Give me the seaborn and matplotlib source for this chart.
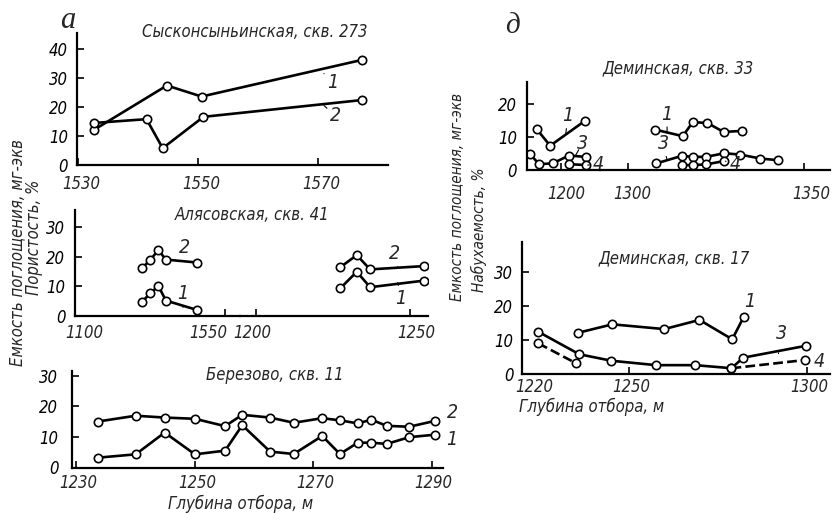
import matplotlib
matplotlib.use("Agg")
import matplotlib.pyplot as plt
import seaborn as sns

# --- data ---
# a) Сысконсыньинская, скв. 273
syk_depth1 = [1532.7, 1544.8, 1550.6, 1577.3]
syk_cap1 = [12.2, 27.4, 23.6, 36.2]
syk_depth2 = [1532.7, 1541.4, 1544.1, 1550.9, 1577.4]
syk_por2 = [14.5, 15.8, 5.8, 16.6, 22.4]

# Алясовская, скв. 41 (broken depth axis)
ala_left_depth = [1522.4, 1525.0, 1527.8, 1530.3, 1540.8]
ala_left_cap1 = [4.8, 7.6, 10.1, 5.2, 2.0]
ala_left_por2 = [16.2, 18.8, 22.2, 19.0, 18.0]
ala_right_depth = [1227.3, 1232.7, 1237.0, 1254.4]
ala_right_cap1 = [9.3, 14.9, 9.7, 11.9]
ala_right_por2 = [16.4, 20.5, 15.7, 16.8]

# Березово, скв. 11
ber_depth = [1233.6, 1240.0, 1244.9, 1250.0, 1255.1, 1258.0, 1262.7, 1266.7,
             1271.5, 1274.5, 1277.5, 1279.8, 1282.4, 1286.2, 1290.5]
ber_cap1 = [3.2, 4.3, 11.4, 4.3, 5.5, 13.8, 5.2, 4.4, 10.3, 4.4, 8.1, 8.1, 7.7, 9.9, 10.7]
ber_por2 = [15.0, 16.9, 16.3, 15.9, 13.5, 17.2, 16.3, 14.6, 16.1, 15.4, 14.4, 15.6,
            13.6, 13.3, 15.2]

# д) Деминская, скв. 33
d33_l_depth1 = [1193.0, 1196.9, 1206.7]
d33_l_cap1 = [12.5, 7.4, 14.9]
d33_l_depth3 = [1191.2, 1193.7, 1197.6, 1202.2, 1207.0]
d33_l_sw3 = [4.8, 1.8, 2.0, 4.4, 4.0]
d33_l_depth4 = [1202.2, 1207.0]
d33_l_sw4 = [1.8, 1.5]
d33_r_depth1 = [1307.6, 1315.5, 1318.3, 1322.5, 1327.1, 1332.3]
d33_r_cap1 = [12.3, 10.3, 14.6, 14.3, 11.6, 11.9]
d33_r_depth3 = [1307.9, 1315.2, 1318.5, 1322.1, 1327.3, 1331.8, 1337.5, 1342.5]
d33_r_sw3 = [2.0, 4.3, 4.0, 4.0, 5.1, 4.7, 3.5, 3.0]
d33_r_depth4 = [1315.2, 1318.5, 1322.1, 1327.1]
d33_r_sw4 = [1.5, 1.5, 1.7, 2.7]

# Деминская, скв. 17
d17_depth1 = [1235.6, 1245.3, 1259.9, 1269.8, 1279.0, 1282.3]
d17_cap1 = [12.1, 14.6, 13.2, 15.9, 10.2, 16.9]
d17_depth3 = [1224.5, 1236.0, 1245.0, 1257.6, 1268.6, 1278.8, 1282.1, 1299.8]
d17_sw3 = [12.4, 5.8, 3.9, 2.6, 2.6, 1.7, 4.8, 8.3]
d17_depth4a = [1224.5, 1235.2]
d17_sw4a = [9.0, 3.1]
d17_depth4b = [1278.8, 1299.4]
d17_sw4b = [1.7, 4.1]

W, H = 832, 513
sns.set_style("ticks")
plt.rcParams["font.family"] = ["DejaVu Sans"]
plt.rcParams["font.stretch"] = "condensed"
plt.rcParams["font.style"] = "italic"
SERIF = ["Liberation Serif", "DejaVu Serif"]

fig = plt.figure(figsize=(W / 100, H / 100), dpi=100)
fig.patch.set_facecolor("white")


def px_axes(x0, x1, ytop, ybot, ypad=6):
    ax = fig.add_axes([x0 / W, 1 - ybot / H, (x1 - x0) / W, (ybot - ytop) / H])
    ax.set_facecolor("none")
    sns.despine(ax=ax)
    for s in ["left", "bottom"]:
        ax.spines[s].set_linewidth(1.6)
        ax.spines[s].set_color("black")
    ax.tick_params(direction="in", length=5, width=1.2, labelsize=12,
                   colors="black", labelbottom=False)
    ax.tick_params(axis="y", pad=ypad)
    return ax


def xlabels(ax, ticks, labels=None, drop=6, shift=None):
    # tick labels drawn as text so that each can sit where the print has it
    ax.set_xticks(ticks)
    labels = labels or [str(t) for t in ticks]
    shift = shift or [3] * len(ticks)
    for t, lab, dx in zip(ticks, labels, shift):
        ax.annotate(lab, xy=(t, 0), xycoords=("data", "axes fraction"),
                    xytext=(dx * 0.72, -drop * 0.72), textcoords="offset points",
                    ha="center", va="top", fontsize=12)


def curve(ax, x, y, dashed=False):
    sns.lineplot(x=x, y=y, ax=ax, color="black", lw=1.9, marker="o", ms=6,
                 markerfacecolor="white", markeredgecolor="black", mew=1.2,
                 linestyle="--" if dashed else "-", sort=False)
    ax.set_xlabel("")
    ax.set_ylabel("")


def ftext(x, y, s, size=12, **kw):
    fig.text(x / W, 1 - y / H, s, fontsize=size, ha="center", va="center", **kw)


def tag(ax, x, y, s, tx, ty):
    ax.annotate(s, xy=(x, y), xytext=(tx, ty), fontsize=14, ha="center", va="center",
                arrowprops=dict(arrowstyle="-", lw=0.8, color="black", shrinkA=5, shrinkB=0))


# panel: Сысконсыньинская
ax1 = px_axes(77, 388, 33, 165, ypad=6.5)
curve(ax1, syk_depth1, syk_cap1)
curve(ax1, syk_depth2, syk_por2)
ax1.set_xlim(1529.8, 1581.7)
ax1.set_ylim(0, 45.5)
xlabels(ax1, [1530, 1550, 1570], drop=10)
ax1.set_yticks([0, 10, 20, 30, 40])
tag(ax1, 1571, 31.5, "1", 1572.5, 28.5)
tag(ax1, 1571, 20.5, "2", 1573, 17)

# panel: Алясовская (two pieces of one depth axis)
ax2a = px_axes(75, 240, 210, 316, ypad=7)
ax2b = px_axes(240, 428, 210, 316)
curve(ax2a, ala_left_depth, ala_left_cap1)
curve(ax2a, ala_left_depth, ala_left_por2)
curve(ax2b, ala_right_depth, ala_right_cap1)
curve(ax2b, ala_right_depth, ala_right_por2)
ax2a.set_xlim(1500, 1555)
ax2b.set_xlim(1194.8, 1255.8)
for a in (ax2a, ax2b):
    a.set_ylim(0, 35.7)
xlabels(ax2a, [1500, 1550], ["1100", "1550"], drop=8, shift=[9, -17])
ax2a.set_yticks([0, 10, 20, 30])
xlabels(ax2b, [1200, 1250], drop=8, shift=[-4, 6])
ax2b.spines["left"].set_visible(False)
ax2b.tick_params(axis="y", left=False, labelleft=False)
tag(ax2a, 1536, 18.5, "2", 1536.5, 23)
tag(ax2a, 1536, 2.9, "1", 1536, 7.5)
tag(ax2b, 1246, 16.5, "2", 1245, 21)
tag(ax2b, 1246, 11.3, "1", 1247, 6)

# panel: Березово
ax3 = px_axes(72.3, 443, 371, 467.5, ypad=10)
curve(ax3, ber_depth, ber_cap1)
curve(ax3, ber_depth, ber_por2)
ax3.set_xlim(1229.3, 1291.9)
ax3.set_ylim(0, 31.5)
xlabels(ax3, [1230, 1250, 1270, 1290], drop=6, shift=[2, 2, 2, 2])
ax3.set_yticks([0, 10, 20, 30])
ax3.text(1292.5, 18, "2", fontsize=14, ha="left", va="center")
ax3.text(1292.5, 9, "1", fontsize=14, ha="left", va="center")

# panel: Деминская, скв. 33
ax4a = px_axes(526.7, 600, 82, 170, ypad=7)
ax4b = px_axes(600, 830, 82, 170)
curve(ax4a, d33_l_depth1, d33_l_cap1)
curve(ax4a, d33_l_depth3, d33_l_sw3)
curve(ax4a, d33_l_depth4, d33_l_sw4)
curve(ax4b, d33_r_depth1, d33_r_cap1)
curve(ax4b, d33_r_depth3, d33_r_sw3)
curve(ax4b, d33_r_depth4, d33_r_sw4)
ax4a.set_xlim(1190.2, 1211.1)
ax4b.set_xlim(1291.9, 1357.4)
for a in (ax4a, ax4b):
    a.set_ylim(0, 26.8)
xlabels(ax4a, [1200], drop=15, shift=[5])
ax4a.set_yticks([0, 10, 20])
xlabels(ax4b, [1300, 1350], drop=15, shift=[4, 7])
ax4b.spines["left"].set_visible(False)
ax4b.tick_params(axis="y", left=False, labelleft=False)
tag(ax4a, 1201.3, 10.8, "1", 1202, 16.5)
tag(ax4a, 1204, 4.2, "3", 1206, 8)
tag(ax4a, 1207.6, 1.5, "4", 1210.6, 1.7)
tag(ax4b, 1311, 11.3, "1", 1311, 17)
tag(ax4b, 1311, 3.0, "3", 1310, 8)
tag(ax4b, 1327.6, 2.7, "4", 1330.3, 1.6)

# panel: Деминская, скв. 17
ax5 = px_axes(522.4, 830, 242, 374, ypad=6.5)
curve(ax5, d17_depth1, d17_cap1)
curve(ax5, d17_depth3, d17_sw3)
curve(ax5, d17_depth4a, d17_sw4a, dashed=True)
curve(ax5, d17_depth4b, d17_sw4b, dashed=True)
ax5.set_xlim(1220, 1306.5)
ax5.set_ylim(0, 38.8)
xlabels(ax5, [1220, 1250, 1300], drop=4, shift=[12, 2, 2])
ax5.set_yticks([0, 10, 20, 30])
ax5.text(1283.8, 21.3, "1", fontsize=14, ha="center", va="center")
tag(ax5, 1292, 6.0, "3", 1293, 12)
ax5.text(1303.5, 3.6, "4", fontsize=14, ha="center", va="center")

# titles, panel letters and axis labels
ftext(255, 32, "Сысконсыньинская, скв. 273")
ftext(252, 215, "Алясовская, скв. 41")
ftext(275, 375, "Березово, скв. 11")
ftext(678, 68, "Деминская, скв. 33")
ftext(674, 258, "Деминская, скв. 17")
ftext(68, 20, "а", size=22, family=SERIF)
ftext(513, 26, "д", size=21, family=SERIF)
ftext(241, 504, "Глубина отбора, м")
ftext(592, 407, "Глубина отбора, м")
ftext(17, 252, "Емкость поглощения, мг-экв", rotation=90)
ftext(34, 237, "Пористость, %", rotation=90)
ftext(457, 197, "Емкость поглощения, мг-экв", size=11, rotation=90)
ftext(479, 230, "Набухаемость, %", size=11, rotation=90)

fig.savefig("out.png", dpi=100, facecolor="white")
